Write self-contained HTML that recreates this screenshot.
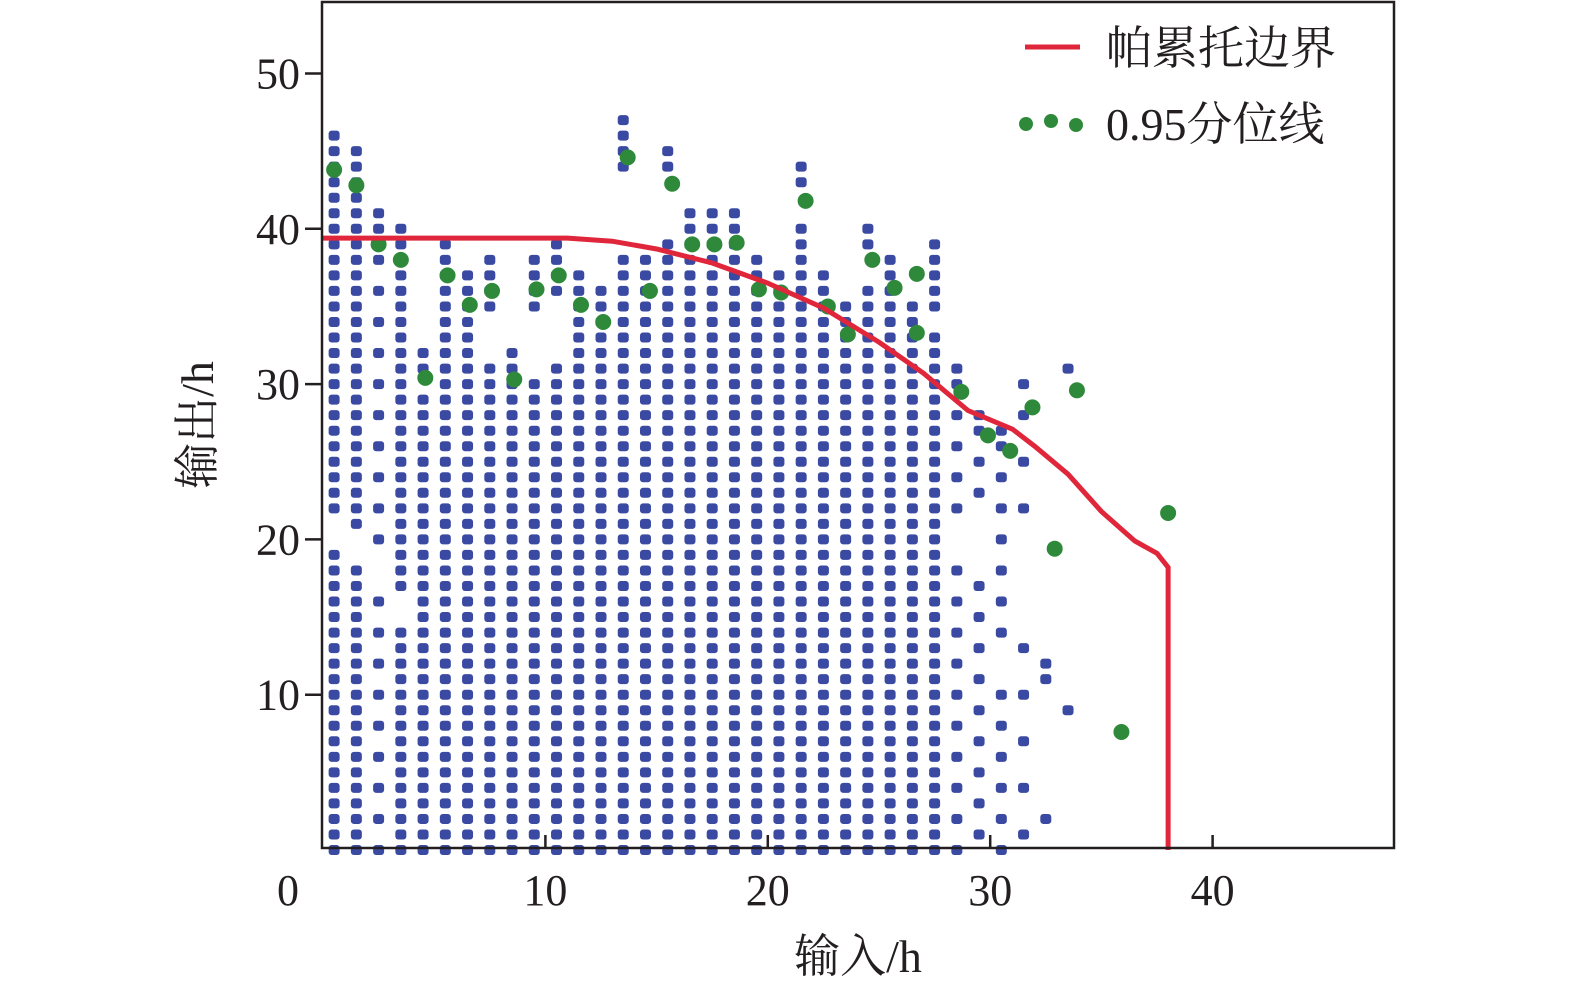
<!DOCTYPE html>
<html><head><meta charset="utf-8">
<style>
html,body{margin:0;padding:0;background:#fff;}
svg text{font-family:"Liberation Serif","Noto Serif CJK SC",serif;fill:#231f20;}
</style></head>
<body>
<svg id="chart" width="1575" height="993" viewBox="0 0 1575 993" xmlns="http://www.w3.org/2000/svg">
<g id="dots"></g>
<g id="greens"></g>
<path id="pareto" fill="none" stroke="#e0263a" stroke-width="5"/>
<rect x="322" y="2" width="1072" height="846" fill="none" stroke="#231f20" stroke-width="2.5"/>
<g id="axes"></g>
<text x="858" y="972" font-size="46" text-anchor="middle">输入/h</text>
<text x="0" y="0" font-size="46" text-anchor="middle" transform="translate(213,425) rotate(-90)">输出/h</text>
<g>
<line x1="1025" y1="47" x2="1080" y2="47" stroke="#e0263a" stroke-width="5"/>
<text x="1106" y="64" font-size="46">帕累托边界</text>
<circle cx="1026" cy="124" r="7" fill="#2e8a3a"/><circle cx="1051" cy="121" r="7" fill="#2e8a3a"/><circle cx="1076" cy="125" r="7" fill="#2e8a3a"/>
<text x="1106" y="140" font-size="46">0.95分位线</text>
</g>
</svg>
<script>
const colX=[0.5,1.5,2.5,3.5,4.5,5.5,6.5,7.5,8.5,9.5,10.5,11.5,12.5,13.5,14.5,15.5,16.5,17.5,18.5,19.5,20.5,21.5,22.5,23.5,24.5,25.5,26.5,27.5,28.5,29.5,30.5,31.5,32.5,33.5];
const colTop=[46,45,41,40,32,39,37,38,32,38,39,37,36,47,38,45,41,41,41,38,37,44,37,35,40,38,35,39,31,28,27,30,12,31];
const colStep=[1,1,2,1,1,1,1,1,1,1,1,1,1,1,1,1,1,1,1,1,1,1,1,1,1,1,1,1,2,2,2,3,3,12];
const gapLo=[19,18,16,14,29,28,30,31,30,30,31,34,34,38,39,39,39,39,39,39,39,40,38,36,36,38,33,33,18,18,10,14,4,10];
const gapHi=[22,21,19,17,31,29,31,35,31,35,36,35,35,44,43,44,40,40,40,37,37,43,36,35,39,37,34,35,22,22,14,20,9,28];
const greenX=[0.5,1.5,2.5,3.5,4.6,5.6,6.6,7.6,8.6,9.6,10.6,11.6,12.6,13.7,14.7,15.7,16.6,17.6,18.6,19.6,20.6,21.7,22.7,23.6,24.7,25.7,26.7,26.7,28.7,29.9,30.9,31.9,32.9,33.9,35.9,38.0];
const greenY=[43.8,42.8,39,38,30.4,37,35.1,36,30.3,36.1,37,35.1,34,44.6,36,42.9,39,39,39.1,36.1,35.9,41.8,35,33.2,38,36.2,37.1,33.3,29.5,26.7,25.7,28.5,19.4,29.6,7.6,21.7];
const paretoX=[0,11,13,15,17.5,20,22.5,25,27,29,31,32,33.5,35,36.5,37.5,38,38];
const paretoY=[39.4,39.4,39.2,38.7,37.8,36.5,34.9,32.7,30.7,28.3,27.1,26.0,24.2,21.8,19.9,19.1,18.2,0];
const xTicks=[10,20,30,40], yTicks=[10,20,30,40,50];
const sx=v=>323+v*22.24, sy=v=>850-v*15.53;
const NS="http://www.w3.org/2000/svg";
const dots=document.getElementById('dots');
colX.forEach((x,i)=>{for(let y=0;y<=colTop[i];y++){
 if(y>gapLo[i]&&y<gapHi[i]) continue;
 if(colStep[i]>1 && (y%colStep[i])!==(i%colStep[i]) && y!==colTop[i]) continue;
 const r=document.createElementNS(NS,'rect');
 r.setAttribute('x',sx(x)-5.5);r.setAttribute('y',sy(y)-5);r.setAttribute('width',11);r.setAttribute('height',10);r.setAttribute('rx',3);
 r.setAttribute('fill','#3a4aa2');
 
 
 dots.appendChild(r);}});
const g=document.getElementById('greens');
greenX.forEach((x,i)=>{const c=document.createElementNS(NS,'circle');
 c.setAttribute('cx',sx(x));c.setAttribute('cy',sy(greenY[i]));c.setAttribute('r',8);c.setAttribute('fill','#2e8a3a');
 
 
 g.appendChild(c);});
document.getElementById('pareto').setAttribute('d',paretoX.map((x,i)=>(i?'L':'M')+sx(x)+' '+sy(paretoY[i])).join(' '));
const ax=document.getElementById('axes');
function add(tag,attrs,txt){const e=document.createElementNS(NS,tag);for(const k in attrs)e.setAttribute(k,attrs[k]);if(txt!==undefined)e.textContent=txt;ax.appendChild(e);return e;}
xTicks.forEach(t=>{const l=add('line',{x1:sx(t),x2:sx(t),y1:835,y2:848,stroke:'#231f20','stroke-width':2.5});
 
 
 const tx=add('text',{x:sx(t),y:905,'font-size':44,'text-anchor':'middle'},String(t));
 
 });
const z=add('text',{x:288,y:905,'font-size':44,'text-anchor':'middle'},'0');


yTicks.forEach(t=>{const l=add('line',{x1:305,x2:322,y1:sy(t),y2:sy(t),stroke:'#231f20','stroke-width':2.5});
 
 
 const tx=add('text',{x:300,y:sy(t)+15,'font-size':44,'text-anchor':'end'},String(t));
 
 });
</script>
</body></html>
